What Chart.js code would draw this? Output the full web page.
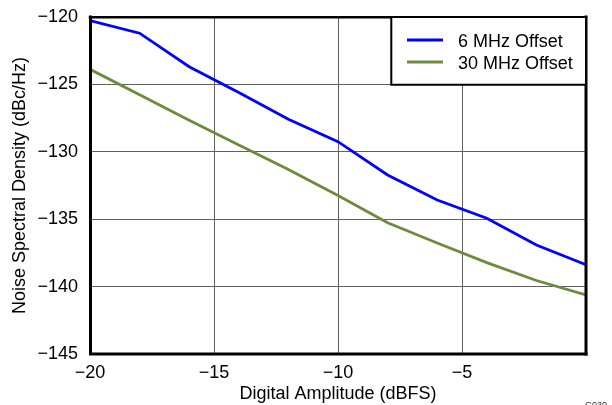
<!DOCTYPE html>
<html>
<head>
<meta charset="utf-8">
<script src="https://cdn.jsdelivr.net/npm/chart.js@4.4.0/dist/chart.umd.min.js"></script>
<style>
  html, body { margin: 0; padding: 0; background: #fff; }
  #wrap { width: 612px; height: 405px; position: relative; }
</style>
</head>
<body>
<div id="wrap"><canvas id="c" width="612" height="405"></canvas></div>
<script>
// ---- data ----
const amplitudeDBFS = [-20, -18, -16, -14, -12, -10, -8, -6, -4, -2, 0];
const offset6MHz  = [-120.27, -121.2, -123.69, -125.6, -127.59, -129.25, -131.72, -133.58, -134.93, -136.91, -138.38];
const offset30MHz = [-123.88, -125.77, -127.66, -129.5, -131.31, -133.25, -135.27, -136.76, -138.22, -139.55, -140.62];
const seriesLabels = ['6 MHz Offset', '30 MHz Offset'];
const xTickValues = [-20, -15, -10, -5, 0];
const xTickLabels = ['\u221220', '\u221215', '\u221210', '\u22125', ''];
const yTickValues = [-145, -140, -135, -130, -125, -120];
const yTickLabels = ['\u2212145', '\u2212140', '\u2212135', '\u2212130', '\u2212125', '\u2212120'];
const xTitle = 'Digital Amplitude (dBFS)';
const yTitle = 'Noise Spectral Density (dBc/Hz)';
const figureTag = 'G030';

const FONT = '"Liberation Sans", Arial, sans-serif';
const BLUE = '#0000FF';
const GREEN = '#6E8B3D';

const toPoints = ys => amplitudeDBFS.map((x, i) => ({ x: x, y: ys[i] }));

const framePlugin = {
  id: 'frame',
  afterDatasetsDraw(chart) {
    const { ctx, chartArea: a } = chart;
    ctx.save();
    ctx.strokeStyle = '#000';
    ctx.lineCap = 'square';
    // left & bottom
    ctx.lineWidth = 3;
    ctx.beginPath();
    ctx.moveTo(a.left + 0.5, a.top);
    ctx.lineTo(a.left + 0.5, a.bottom);
    ctx.lineTo(a.right, a.bottom);
    ctx.stroke();
    // right
    ctx.lineWidth = 3;
    ctx.beginPath();
    ctx.moveTo(a.right, a.bottom);
    ctx.lineTo(a.right, a.top);
    ctx.stroke();
    // top
    ctx.lineWidth = 2.5;
    ctx.beginPath();
    ctx.moveTo(a.left, a.top + 0.3);
    ctx.lineTo(a.right, a.top + 0.3);
    ctx.stroke();

    // legend box
    const lx = 391.3, ly = a.top, lr = a.right, lb = 84.7;
    ctx.fillStyle = '#fff';
    ctx.fillRect(lx, ly + 1, lr - lx - 1, lb - ly - 1);
    ctx.lineWidth = 2;
    ctx.beginPath();
    ctx.moveTo(lx, ly);
    ctx.lineTo(lx, lb);
    ctx.lineTo(lr, lb);
    ctx.stroke();
    const rows = [40, 62];
    chart.data.datasets.forEach((ds, i) => {
      ctx.strokeStyle = ds.borderColor;
      ctx.lineWidth = 3;
      ctx.lineCap = 'butt';
      ctx.beginPath();
      ctx.moveTo(407, rows[i]);
      ctx.lineTo(443, rows[i]);
      ctx.stroke();
      ctx.fillStyle = '#000';
      ctx.font = '18px ' + FONT;
      ctx.textBaseline = 'alphabetic';
      ctx.textAlign = 'left';
      ctx.fillText(ds.label, 458, rows[i] + 6.6);
    });

    // figure tag
    ctx.fillStyle = '#333';
    ctx.font = '9px ' + FONT;
    ctx.fillText(figureTag, 585, 407.5);
    ctx.restore();
  }
};

new Chart(document.getElementById('c'), {
  type: 'line',
  data: {
    datasets: [
      { label: seriesLabels[0], data: toPoints(offset6MHz), borderColor: BLUE, backgroundColor: BLUE,
        borderWidth: 2.8, pointRadius: 0, tension: 0, fill: false },
      { label: seriesLabels[1], data: toPoints(offset30MHz), borderColor: GREEN, backgroundColor: GREEN,
        borderWidth: 2.8, pointRadius: 0, tension: 0, fill: false }
    ]
  },
  options: {
    responsive: false,
    animation: false,
    devicePixelRatio: 1,
    layout: { padding: { top: 17, right: 26, left: 0, bottom: 0 } },
    plugins: { legend: { display: false }, title: { display: false }, tooltip: { enabled: false } },
    scales: {
      x: {
        type: 'linear', min: -20, max: 0,
        afterBuildTicks: s => { s.ticks = xTickValues.map(v => ({ value: v })); },
        afterFit: s => { s.height = 51; s.paddingLeft = 0; s.paddingRight = 0; },
        ticks: {
          padding: 8, color: '#000', font: { family: FONT, size: 18 }, maxRotation: 0,
          callback: (v) => xTickLabels[xTickValues.indexOf(v)]
        },
        grid: { color: '#606060', lineWidth: 1, drawTicks: false },
        border: { display: false },
        title: { display: true, text: xTitle, color: '#000', font: { family: FONT, size: 18 }, padding: { top: 0, bottom: 0 } }
      },
      y: {
        type: 'linear', min: -145, max: -120,
        afterBuildTicks: s => { s.ticks = yTickValues.map(v => ({ value: v })); },
        afterFit: s => { s.width = 90; s.paddingTop = 0; s.paddingBottom = 0; },
        ticks: {
          padding: 12, color: '#000', font: { family: FONT, size: 18 },
          callback: (v) => yTickLabels[yTickValues.indexOf(v)]
        },
        grid: { color: '#606060', lineWidth: 1, drawTicks: false },
        border: { display: false },
        title: { display: true, text: yTitle, color: '#000', font: { family: FONT, size: 18 }, padding: { top: 9, bottom: 0 } }
      }
    }
  },
  plugins: [framePlugin]
});
</script>
</body>
</html>
